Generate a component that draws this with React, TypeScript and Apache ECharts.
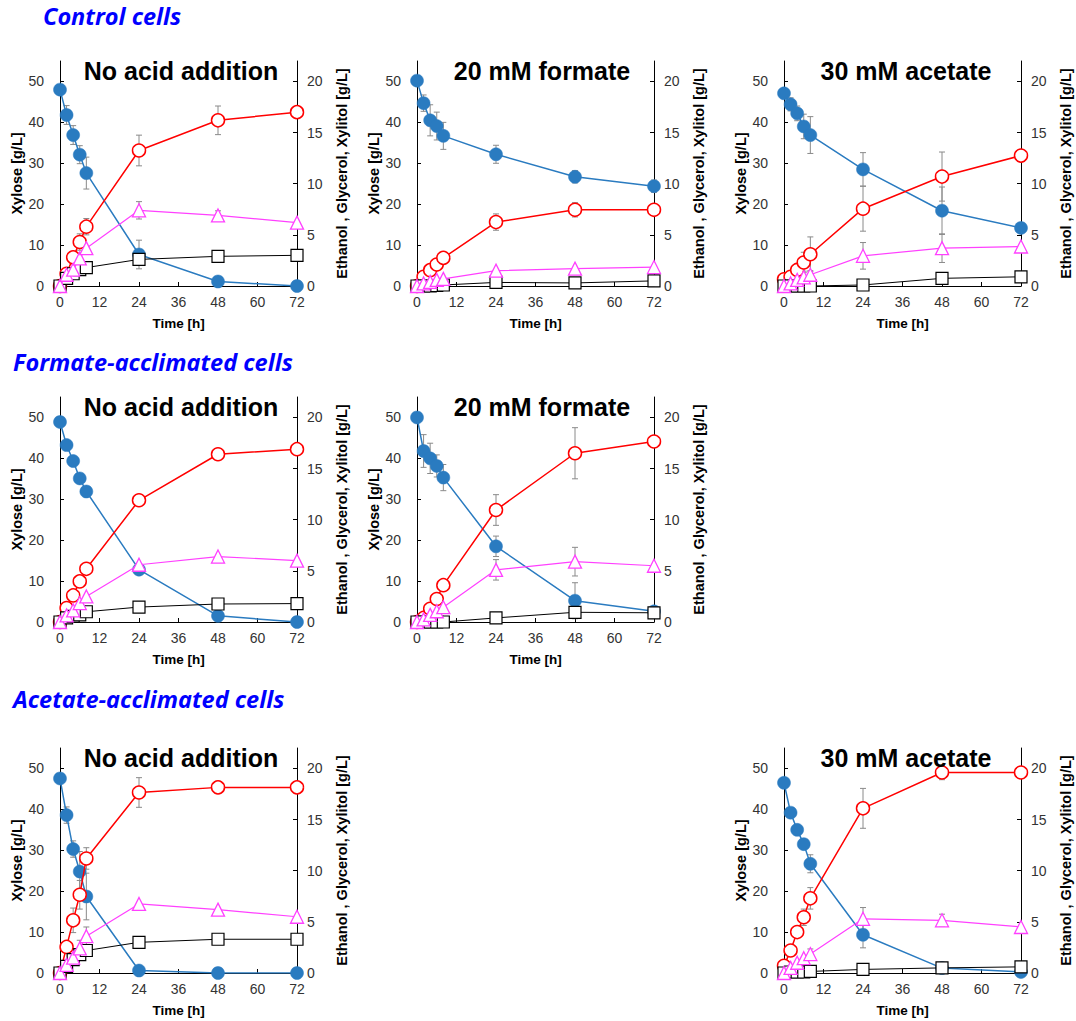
import React, { useEffect, useRef } from "react";
import * as echarts from "echarts";

// ---- data ----
const TIME = [0, 2, 4, 6, 8, 24, 48, 72];
const X_TICKS = [0, 12, 24, 36, 48, 60, 72];
const ROW_HEADERS = ["Control cells", "Formate-acclimated cells", "Acetate-acclimated cells"];
const PANEL_TITLES = ["No acid addition", "20 mM formate", "30 mM acetate", "No acid addition", "20 mM formate", "No acid addition", "30 mM acetate"];

// Control cells, no acid
const c0_xyl = [48.0, 41.8, 36.9, 32.1, 27.6, 7.7, 1.1, 0];
const c0_xylErr = [0, 2.3, 2.3, 2.2, 3.9, 3.5, 0, 0];
const c0_eth = [0, 1.2, 2.8, 4.3, 5.8, 13.25, 16.2, 17.0];
const c0_ethErr = [0, 0, 0, 0.8, 0.8, 1.5, 1.4, 0];
const c0_tri = [0, 1.1, 1.6, 2.7, 3.7, 7.4, 6.9, 6.2];
const c0_triErr = [0, 0, 0, 0, 0, 0.85, 0.45, 0];
const c0_sq = [0, 0.75, 1.2, 1.6, 1.8, 2.6, 2.9, 3.0];

// Control cells, 20 mM formate
const c1_xyl = [50.2, 44.7, 40.5, 39.1, 36.7, 32.2, 26.7, 24.4];
const c1_xylErr = [0, 2.0, 3.8, 3.4, 3.3, 2.2, 1.5, 1.5];
const c1_eth = [0, 0.9, 1.55, 2.1, 2.75, 6.25, 7.45, 7.45];
const c1_ethErr = [0, 0, 0, 0, 0, 0.8, 0.7, 0];
const c1_tri = [0, 0.25, 0.4, 0.6, 0.7, 1.5, 1.7, 1.85];
const c1_triErr = [0, 0, 0, 0, 0, 0, 0, 0];
const c1_sq = [0, 0, 0, 0.05, 0.1, 0.35, 0.3, 0.5];

// Control cells, 30 mM acetate
const c2_xyl = [47.1, 44.4, 42.2, 39.0, 36.9, 28.5, 18.4, 14.2];
const c2_xylErr = [0, 1.6, 1.8, 3.0, 4.5, 4.1, 5.8, 0];
const c2_eth = [0.65, 0.9, 1.57, 2.3, 3.1, 7.56, 10.7, 12.75];
const c2_ethErr = [0, 0, 0.6, 1.0, 1.7, 2.2, 2.4, 0];
const c2_tri = [0, 0.25, 0.6, 0.85, 1.1, 2.95, 3.7, 3.86];
const c2_triErr = [0, 0, 0, 0.6, 0.4, 1.3, 1.4, 0];
const c2_sq = [0, 0, 0, 0, 0, 0.1, 0.75, 0.9];

// Formate-acclimated, no acid
const f0_xyl = [48.9, 43.25, 39.35, 35.1, 31.9, 12.8, 1.5, 0];
const f0_xylErr = [0, 0, 0, 0, 0, 0, 0, 0];
const f0_eth = [0, 1.37, 2.6, 3.97, 5.2, 11.9, 16.4, 16.9];
const f0_ethErr = [0, 0, 0, 0, 0, 0, 0, 0];
const f0_tri = [0, 0.65, 1.14, 1.85, 2.5, 5.6, 6.4, 6.0];
const f0_triErr = [0, 0, 0, 0, 0, 0, 0, 0];
const f0_sq = [0, 0.4, 0.55, 0.7, 1.0, 1.46, 1.76, 1.8];

// Formate-acclimated, 20 mM formate
const f1_xyl = [50.0, 41.8, 40.0, 38.15, 35.3, 18.5, 5.2, 2.6];
const f1_xylErr = [0, 4.0, 3.7, 2.7, 3.2, 2.5, 4.4, 0];
const f1_eth = [0, 0.4, 1.3, 2.25, 3.6, 10.95, 16.5, 17.65];
const f1_ethErr = [0, 0, 0, 0, 0, 1.5, 2.5, 0];
const f1_tri = [0, 0.25, 0.7, 1.05, 1.45, 5.1, 5.9, 5.5];
const f1_triErr = [0, 0, 0, 0, 0, 1.0, 1.4, 0];
const f1_sq = [0, 0, 0, 0, 0, 0.4, 0.95, 0.9];

// Acetate-acclimated, no acid
const a0_xyl = [47.55, 38.6, 30.3, 24.8, 18.7, 0.6, 0, 0];
const a0_xylErr = [0, 2.0, 2.0, 4.9, 5.7, 0, 0, 0];
const a0_eth = [0, 2.55, 5.15, 7.65, 11.2, 17.65, 18.15, 18.15];
const a0_ethErr = [0, 0, 1.2, 1.4, 1.05, 1.45, 0.6, 0.5];
const a0_tri = [0, 0.8, 1.5, 2.4, 3.6, 6.75, 6.2, 5.5];
const a0_triErr = [0, 0, 0, 0.8, 0.9, 0, 0, 0];
const a0_sq = [0, 0.65, 1.3, 1.8, 2.2, 3.0, 3.3, 3.3];

// Acetate-acclimated, 30 mM acetate
const a1_xyl = [46.5, 39.2, 35.0, 31.5, 26.7, 9.35, 1.2, 0.25];
const a1_xylErr = [0, 0, 0, 1.0, 2.2, 3.2, 0, 0];
const a1_eth = [0.7, 2.2, 4.0, 5.45, 7.3, 16.1, 19.6, 19.6];
const a1_ethErr = [0, 0, 0, 0.8, 1.05, 1.95, 0.7, 0];
const a1_tri = [0, 0.5, 1.0, 1.45, 1.85, 5.3, 5.15, 4.5];
const a1_triErr = [0, 0, 0, 0, 0.5, 1.1, 0.6, 0];
const a1_sq = [0, 0.1, 0.1, 0.1, 0.15, 0.35, 0.5, 0.6];

const PANEL_DATA = [
  { xyl: c0_xyl, xylErr: c0_xylErr, eth: c0_eth, ethErr: c0_ethErr, tri: c0_tri, triErr: c0_triErr, sq: c0_sq },
  { xyl: c1_xyl, xylErr: c1_xylErr, eth: c1_eth, ethErr: c1_ethErr, tri: c1_tri, triErr: c1_triErr, sq: c1_sq },
  { xyl: c2_xyl, xylErr: c2_xylErr, eth: c2_eth, ethErr: c2_ethErr, tri: c2_tri, triErr: c2_triErr, sq: c2_sq },
  { xyl: f0_xyl, xylErr: f0_xylErr, eth: f0_eth, ethErr: f0_ethErr, tri: f0_tri, triErr: f0_triErr, sq: f0_sq },
  { xyl: f1_xyl, xylErr: f1_xylErr, eth: f1_eth, ethErr: f1_ethErr, tri: f1_tri, triErr: f1_triErr, sq: f1_sq },
  { xyl: a0_xyl, xylErr: a0_xylErr, eth: a0_eth, ethErr: a0_ethErr, tri: a0_tri, triErr: a0_triErr, sq: a0_sq },
  { xyl: a1_xyl, xylErr: a1_xylErr, eth: a1_eth, ethErr: a1_ethErr, tri: a1_tri, triErr: a1_triErr, sq: a1_sq },
];

// ---- layout ----
const COL_LEFT = [60, 417, 784];
const ROW_ZERO = [286, 622, 973];
const PANEL_POS = [
  [0, 0], [0, 1], [0, 2],
  [1, 0], [1, 1],
  [2, 0], [2, 2],
];
const TITLE_X = [181, 542, 906];
const GRID_W = 237;
const GRID_H = 225;
const HEADER_POS = [[43, 16], [13, 362], [13, 699]];

const FONT = "'Liberation Sans', Arial, Helvetica, sans-serif";
const BLUE = "#2a7bc0";
const RED = "#ff0000";
const MAG = "#ff40ff";
const ERR = "#8a8a8a";

function errorSeries(values: number[], errs: number[], xi: number, yi: number) {
  const data = TIME.map((t, i) => [t, values[i], errs[i]]).filter((d) => d[2] > 0);
  return {
    type: "custom",
    xAxisIndex: xi,
    yAxisIndex: yi,
    z: 1,
    silent: true,
    data,
    renderItem: (params: any, api: any) => {
      const x = api.value(0);
      const y = api.value(1);
      const e = api.value(2);
      const top = api.coord([x, y + e]);
      const bot = api.coord([x, Math.max(0, y - e)]);
      const hw = 3;
      const st = { stroke: ERR, lineWidth: 1 };
      return {
        type: "group",
        children: [
          { type: "line", shape: { x1: top[0], y1: top[1], x2: bot[0], y2: bot[1] }, style: st },
          { type: "line", shape: { x1: top[0] - hw, y1: top[1], x2: top[0] + hw, y2: top[1] }, style: st },
          { type: "line", shape: { x1: bot[0] - hw, y1: bot[1], x2: bot[0] + hw, y2: bot[1] }, style: st },
        ],
      };
    },
  };
}

function buildOption() {
  const grid: any[] = [];
  const xAxis: any[] = [];
  const yAxis: any[] = [];
  const series: any[] = [];
  const graphic: any[] = [];

  const axisLabelBase = { color: "#333", fontSize: 14, fontFamily: FONT };
  const nameStyle = { color: "#000", fontSize: 13.5, fontWeight: "bold", fontFamily: FONT };
  const yNameStyle = { color: "#000", fontSize: 14.5, fontWeight: "bold", fontFamily: FONT };

  PANEL_POS.forEach(([r, c], p) => {
    const left = COL_LEFT[c];
    const top = ROW_ZERO[r] - GRID_H;
    grid.push({ left, top, width: GRID_W, height: GRID_H, containLabel: false });
    xAxis.push({
      type: "value",
      gridIndex: p,
      min: 0,
      max: 72,
      interval: 12,
      name: "Time [h]",
      nameLocation: "middle",
      nameGap: 30,
      nameTextStyle: nameStyle,
      axisLine: { show: true, onZero: false, lineStyle: { color: "#000", width: 1 } },
      axisTick: { show: true, inside: true, length: 4, lineStyle: { color: "#000" } },
      axisLabel: { ...axisLabelBase, margin: 9, formatter: (v: number) => (X_TICKS.includes(v) ? String(v) : "") },
      splitLine: { show: false },
    });
    yAxis.push({
      type: "value",
      gridIndex: p,
      position: "left",
      min: 0,
      max: 55,
      interval: 10,
      name: "Xylose [g/L]",
      nameLocation: "middle",
      nameRotate: 90,
      nameGap: 35,
      nameTextStyle: yNameStyle,
      axisLine: { show: true, lineStyle: { color: "#000", width: 1 } },
      axisTick: { show: true, inside: true, length: 4, lineStyle: { color: "#000" } },
      axisLabel: { ...axisLabelBase, margin: 16, showMaxLabel: false },
      splitLine: { show: false },
    });
    yAxis.push({
      type: "value",
      gridIndex: p,
      position: "right",
      min: 0,
      max: 22,
      interval: 5,
      name: "Ethanol , Glycerol, Xylitol [g/L]",
      nameLocation: "middle",
      nameRotate: 90,
      nameGap: 37,
      nameTextStyle: yNameStyle,
      axisLine: { show: true, lineStyle: { color: "#000", width: 1 } },
      axisTick: { show: true, inside: true, length: 4, lineStyle: { color: "#000" } },
      axisLabel: { ...axisLabelBase, margin: 10, showMaxLabel: false },
      splitLine: { show: false },
    });

    const d = PANEL_DATA[p];
    const yl = p * 2;
    const yr = p * 2 + 1;
    const pts = (arr: number[]) => TIME.map((t, i) => [t, arr[i]]);

    series.push(errorSeries(d.xyl, d.xylErr, p, yl));
    series.push(errorSeries(d.eth, d.ethErr, p, yr));
    series.push(errorSeries(d.tri, d.triErr, p, yr));

    series.push({
      type: "line", name: "Xylose", xAxisIndex: p, yAxisIndex: yl, z: 2,
      data: pts(d.xyl), symbol: "circle", symbolSize: 13,
      itemStyle: { color: BLUE, borderColor: BLUE, borderWidth: 0.5 },
      lineStyle: { color: BLUE, width: 1.5 },
    });
    series.push({
      type: "line", name: "Ethanol", xAxisIndex: p, yAxisIndex: yr, z: 3,
      data: pts(d.eth), symbol: "circle", symbolSize: 13,
      itemStyle: { color: "#fff", borderColor: RED, borderWidth: 1.5 },
      lineStyle: { color: RED, width: 1.5 },
    });
    series.push({
      type: "line", name: "Glycerol", xAxisIndex: p, yAxisIndex: yr, z: 4,
      data: pts(d.sq), symbol: "rect", symbolSize: 12,
      itemStyle: { color: "#fff", borderColor: "#000", borderWidth: 1.2 },
      lineStyle: { color: "#000", width: 1 },
    });
    series.push({
      type: "line", name: "Xylitol", xAxisIndex: p, yAxisIndex: yr, z: 5,
      data: pts(d.tri), symbol: "triangle", symbolSize: 13,
      itemStyle: { color: "#fff", borderColor: MAG, borderWidth: 1.3 },
      lineStyle: { color: MAG, width: 1.2 },
    });

    graphic.push({
      type: "text",
      x: TITLE_X[c],
      y: ROW_ZERO[r] - 215,
      z: 10,
      style: {
        text: PANEL_TITLES[p],
        fontFamily: FONT,
        fontSize: 25,
        fontWeight: "bold",
        fill: "#000",
        align: "center",
        verticalAlign: "middle",
      },
    });
  });

  ROW_HEADERS.forEach((h, i) => {
    graphic.push({
      type: "text",
      x: HEADER_POS[i][0],
      y: HEADER_POS[i][1],
      style: {
        text: h,
        fontFamily: "'Open Sans', Lato, sans-serif",
        fontSize: 23.5,
        fontWeight: "bold",
        fontStyle: "italic",
        fill: "#0000ff",
        align: "left",
        verticalAlign: "middle",
      },
    });
  });

  return {
    animation: false,
    backgroundColor: "#fff",
    grid,
    xAxis,
    yAxis,
    series,
    graphic,
  };
}

export default function App() {
  const ref = useRef<HTMLDivElement>(null);
  useEffect(() => {
    if (!ref.current) return;
    const chart = echarts.init(ref.current, undefined, { renderer: "svg" });
    chart.setOption(buildOption() as any);
    return () => chart.dispose();
  }, []);
  return (
    <div
      ref={ref}
      style={{ position: "absolute", left: 0, top: 0, width: 1076, height: 1021, background: "#fff" }}
    />
  );
}
